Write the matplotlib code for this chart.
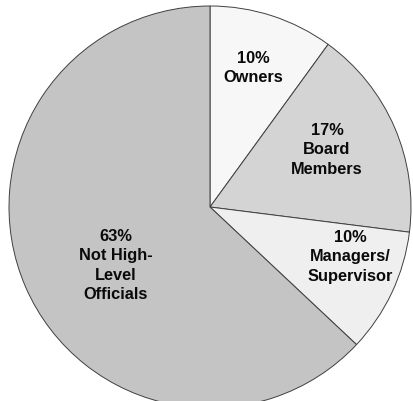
import matplotlib
matplotlib.use("Agg")
import matplotlib.pyplot as plt
import numpy as np

# data
categories = ["Owners", "Board\nMembers", "Managers/\nSupervisor", "Not High-\nLevel\nOfficials"]
shares = [10, 17, 10, 63]

colors = ["#f7f7f7", "#d4d4d4", "#efefef", "#c4c4c4"]
# label placement: distance from centre (fraction of radius) and angle shift in degrees
label_r = [0.73, 0.65, 0.74, 0.55]
label_shift = [1, 3, 6, 8]

fig = plt.figure(figsize=(4.13, 4.02), dpi=100)
ax = fig.add_axes([9/413, -7/402, 402/413, 402/402])

wedges, _ = ax.pie(shares, colors=colors, startangle=90, counterclock=False,
                   radius=1.0,
                   wedgeprops=dict(edgecolor="#404040", linewidth=0.7))

for w, cat, val, r, s in zip(wedges, categories, shares, label_r, label_shift):
    mid = np.deg2rad((w.theta1 + w.theta2) / 2 + s)
    ax.text(r * np.cos(mid), r * np.sin(mid), f"{val}%\n{cat}",
            ha="center", va="center", fontsize=11.8, fontweight="bold",
            family="Liberation Sans", linespacing=1.35, color="#0a0a0a")

ax.set_xlim(-1, 1)
ax.set_ylim(-1, 1)
ax.set_aspect("equal")
ax.axis("off")

fig.savefig("out.png", dpi=100)
